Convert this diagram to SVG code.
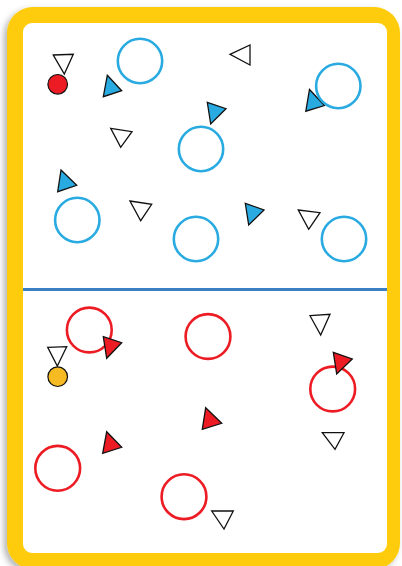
<svg xmlns="http://www.w3.org/2000/svg" width="402" height="566" viewBox="0 0 402 566">
  <defs>
    <filter id="shadow" x="-10%" y="-10%" width="120%" height="120%">
      <feDropShadow dx="-3" dy="3" stdDeviation="3" flood-color="#000" flood-opacity="0.3"/>
    </filter>
  </defs>
  <style>
    .blue-ring { fill: none; stroke: #29ABE2; stroke-width: 2.6; }
    .red-ring { fill: none; stroke: #ED1C24; stroke-width: 2.6; }
    .tri-white { fill: #FFFFFF; stroke: #111; stroke-width: 1.3; stroke-linejoin: miter; }
    .tri-blue { fill: #29ABE2; stroke: #111; stroke-width: 1.3; }
    .tri-red { fill: #ED1C24; stroke: #111; stroke-width: 1.3; }
    .dot-red { fill: #ED1C24; stroke: #111; stroke-width: 1.2; }
    .dot-gold { fill: #F6BA22; stroke: #111; stroke-width: 1.2; }
  </style>

  <rect width="402" height="566" fill="#FFFFFF"/>

  <g id="card">
    <rect x="7" y="7" width="393" height="562" rx="26" ry="26" fill="#FFCC08" filter="url(#shadow)"/>
    <rect x="23" y="23" width="364" height="530" rx="9" ry="9" fill="#FFFFFF"/>
  </g>

  <g id="connectors">
    <line x1="23" y1="289.5" x2="387" y2="289.5" stroke="#3B80C3" stroke-width="3"/>
  </g>

  <!-- Top half: blue team -->
  <g id="blue-tri-1"><polygon class="tri-blue" points="107.3,75.3 121.7,90.7 103.3,96.7"/></g>
  <g id="blue-tri-2"><polygon class="tri-blue" points="207.3,102.3 226,108.7 210.7,124"/></g>
  <g id="blue-tri-3"><polygon class="tri-blue" points="309.5,89.5 324.5,105.5 305.8,111.2"/></g>
  <g id="blue-tri-4"><polygon class="tri-blue" points="61,170 76.7,185.3 57.7,191.7"/></g>
  <g id="blue-tri-5"><polygon class="tri-blue" points="245.3,203.3 264,210 248.7,225"/></g>

  <g id="blue-ring-1"><circle class="blue-ring" cx="140" cy="61" r="22.2"/></g>
  <g id="blue-ring-2"><circle class="blue-ring" cx="338.3" cy="86" r="22.2"/></g>
  <g id="blue-ring-3"><circle class="blue-ring" cx="201" cy="149" r="22.2"/></g>
  <g id="blue-ring-4"><circle class="blue-ring" cx="77.3" cy="220" r="22.2"/></g>
  <g id="blue-ring-5"><circle class="blue-ring" cx="196" cy="239" r="22.2"/></g>
  <g id="blue-ring-6"><circle class="blue-ring" cx="344" cy="239" r="22.2"/></g>

  <g id="red-dot"><circle class="dot-red" cx="57.7" cy="84.3" r="9.8"/></g>
  <g id="white-tri-1"><polygon class="tri-white" points="53.3,55 73.3,54.3 64.3,74"/></g>
  <g id="white-tri-2"><polygon class="tri-white" points="110.7,128.3 132,131.7 120.7,147.3"/></g>
  <g id="white-tri-3"><polygon class="tri-white" points="230,54.3 250,45 250,65"/></g>
  <g id="white-tri-4"><polygon class="tri-white" points="130,201 151.7,204.3 140.7,220.7"/></g>
  <g id="white-tri-5"><polygon class="tri-white" points="298.3,210 320,212.7 308.7,229.3"/></g>

  <!-- Bottom half: red team -->
  <g id="red-ring-1"><circle class="red-ring" cx="89.3" cy="330" r="22.4"/></g>
  <g id="red-ring-2"><circle class="red-ring" cx="208" cy="336.5" r="22.4"/></g>
  <g id="red-ring-3"><circle class="red-ring" cx="332.7" cy="389" r="22.4"/></g>
  <g id="red-ring-4"><circle class="red-ring" cx="57.7" cy="468.3" r="22.4"/></g>
  <g id="red-ring-5"><circle class="red-ring" cx="184" cy="496.7" r="22.4"/></g>

  <g id="red-tri-1"><polygon class="tri-red" points="103.3,336.7 121.7,342.7 106.7,358.3"/></g>
  <g id="red-tri-2"><polygon class="tri-red" points="333.3,352.3 352.3,359 336.7,374"/></g>
  <g id="red-tri-3"><polygon class="tri-red" points="205.7,407.7 221.7,423.3 202.3,429.3"/></g>
  <g id="red-tri-4"><polygon class="tri-red" points="106.7,431.7 121.7,447.3 102.7,453.3"/></g>

  <g id="gold-dot"><circle class="dot-gold" cx="57.7" cy="376.7" r="9.8"/></g>
  <g id="white-tri-6"><polygon class="tri-white" points="47.7,347.3 66.7,346.7 57.3,366"/></g>
  <g id="white-tri-7"><polygon class="tri-white" points="310,315.7 330,314.3 320.7,335"/></g>
  <g id="white-tri-8"><polygon class="tri-white" points="322.3,432.7 344,432.7 335,449.3"/></g>
  <g id="white-tri-9"><polygon class="tri-white" points="211.7,511 233.3,511 224,529"/></g>
</svg>
